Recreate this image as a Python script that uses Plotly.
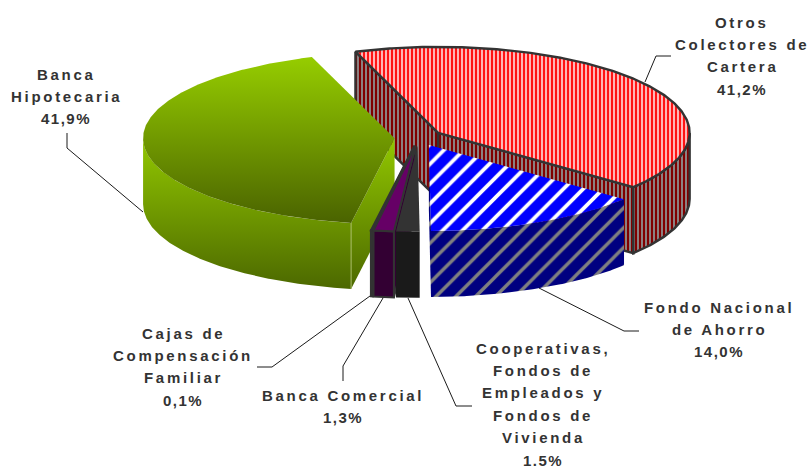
import numpy as np
import plotly.graph_objects as go

# ---- data ----
categories = ["Otros\nColectores de\nCartera", "Fondo Nacional\nde Ahorro",
              "Cooperativas,\nFondos de\nEmpleados y\nFondos de\nVivienda",
              "Banca Comercial", "Cajas de\nCompensación\nFamiliar", "Banca\nHipotecaria"]
values = [41.2, 14.0, 1.5, 1.3, 0.1, 41.9]
value_labels = ["41,2%", "14,0%", "1.5%", "1,3%", "0,1%", "41,9%"]

# ---- projection of the exploded pie (pixels) ----
CX, CY, RX, RY, DEPTH, EXPLODE = 418.5, 137.6, 251.5, 86.0, 66.0, 24.0
START = -19.2
W, H = 810, 467
DARK = "#333333"


def pt(cx, cy, a, r=1.0):
    t = np.radians(a)
    return cx + r * RX * np.sin(t), cy - r * RY * np.cos(t)


def arc(cx, cy, a0, a1):
    a = np.linspace(a0, a1, max(int(abs(a1 - a0) * 2), 2))
    return pt(cx, cy, a)


styles = [
    dict(top=dict(fillpattern=dict(shape="|", bgcolor="#ff1414", fgcolor="#ffc8c8", fgopacity=1, size=4, solidity=0.45)),
         wall=dict(fillpattern=dict(shape="|", bgcolor="#800000", fgcolor="#8c8080", fgopacity=1, size=4, solidity=0.5)),
         line=DARK, lw=2.4),
    dict(top=dict(fillpattern=dict(shape="/", bgcolor="#0000ff", fgcolor="#ffffff", fgopacity=1, size=14, solidity=0.27)),
         wall=dict(fillpattern=dict(shape="/", bgcolor="#000080", fgcolor="#808080", fgopacity=1, size=14, solidity=0.24)),
         line=None, lw=0),
    dict(top=dict(fillcolor="#333333"), wall=dict(fillcolor="#1a1a1a"), line=None, lw=0),
    dict(top=dict(fillcolor="#660066"), wall=dict(fillcolor="#330033"), line=DARK, lw=2),
    dict(top=dict(fillcolor="#333333"), wall=dict(fillcolor="#333333"), line=DARK, lw=2),
    dict(top=dict(fillgradient=dict(type="vertical", colorscale=[[0, "#4a6300"], [1, "#96cd00"]])),
         wall=dict(fillgradient=dict(type="vertical", colorscale=[[0, "#4c6800"], [1, "#92c800"]])),
         line=None, lw=0),
]

spans = []
a = START
for v in values:
    b = a + v * 3.6
    spans.append((a, b))
    a = b

fig = go.Figure()


def poly(xs, ys, style, line, lw):
    fig.add_trace(go.Scatter(
        x=list(xs) + [xs[0]], y=list(ys) + [ys[0]], mode="lines", fill="toself",
        line=dict(color=line or "rgba(0,0,0,0)", width=lw if line else 0),
        hoverinfo="skip", showlegend=False, **style))


def draw(i):
    a0, a1 = spans[i]
    s = styles[i]
    mid = np.radians((a0 + a1) / 2)
    cx = CX + EXPLODE * np.sin(mid)
    cy = CY - EXPLODE * np.cos(mid) * RY / RX
    # radial walls that face the viewer
    for edge, vis in ((a0, np.sin(np.radians(a0)) < 0), (a1, np.sin(np.radians(a1)) > 0)):
        if vis:
            ex, ey = pt(cx, cy, edge)
            poly([cx, ex, ex, cx], [cy, ey, ey + DEPTH, cy + DEPTH], s["wall"], s["line"], s["lw"])
    # outer wall (front half only)
    lo, hi = max(a0, 90), min(a1, 270)
    if hi > lo:
        ax, ay = arc(cx, cy, lo, hi)
        poly(np.r_[ax, ax[::-1]], np.r_[ay, ay[::-1] + DEPTH], s["wall"], s["line"], s["lw"])
    # top face
    ax, ay = arc(cx, cy, a0, a1)
    poly(np.r_[cx, ax], np.r_[cy, ay], s["top"], s["line"], s["lw"])
    if i == 5:  # thin light seam between the two green side faces
        ex, ey = pt(cx, cy, a0)
        fig.add_trace(go.Scatter(x=[ex, ex], y=[ey, ey + DEPTH], mode="lines",
                                 line=dict(color="#a9bd66", width=1), hoverinfo="skip", showlegend=False))


for i in [0, 5, 1, 4, 3, 2]:
    draw(i)

# ---- text ----
label_centres = [(742, 22), (719, 307), (543, 348), (343, 395), (183, 333), (66, 74)]
LINE_STEP = 22.4
for cat, val, (lx, ly) in zip(categories, value_labels, label_centres):
    lines = cat.split("\n")
    for k, t in enumerate(lines + [val]):
        sp = "1.5px" if t == val else "2.7px"
        fig.add_annotation(x=lx, y=ly + k * LINE_STEP, xref="x", yref="y", showarrow=False,
                           xanchor="center", yanchor="middle", borderpad=0,
                           text=f'<span style="letter-spacing:{sp}">{t}</span>',
                           font=dict(family="Liberation Sans, Arial, sans-serif", size=15, color=DARK, weight="bold"))

leaders = [
    ([645, 656, 671], [82, 56, 56]),
    ([67, 67, 143], [133, 148, 212]),
    ([370, 272, 257], [296, 367, 367]),
    ([383, 343, 343], [298, 366, 381]),
    ([408, 456, 472], [298, 406, 406]),
    ([539, 624, 639], [288, 331, 331]),
]
for lxs, lys in leaders:
    fig.add_trace(go.Scatter(x=lxs, y=lys, mode="lines", line=dict(color="#1a1a1a", width=1),
                             hoverinfo="skip", showlegend=False))

fig.update_layout(width=W, height=H, margin=dict(l=0, r=0, t=0, b=0),
                  paper_bgcolor="white", plot_bgcolor="white",
                  xaxis=dict(range=[0, W], visible=False, fixedrange=True),
                  yaxis=dict(range=[H, 0], visible=False, fixedrange=True))

fig.write_html("out.html", config=dict(displayModeBar=False),
               post_script="document.body.style.margin='0';document.body.style.overflow='hidden';")
